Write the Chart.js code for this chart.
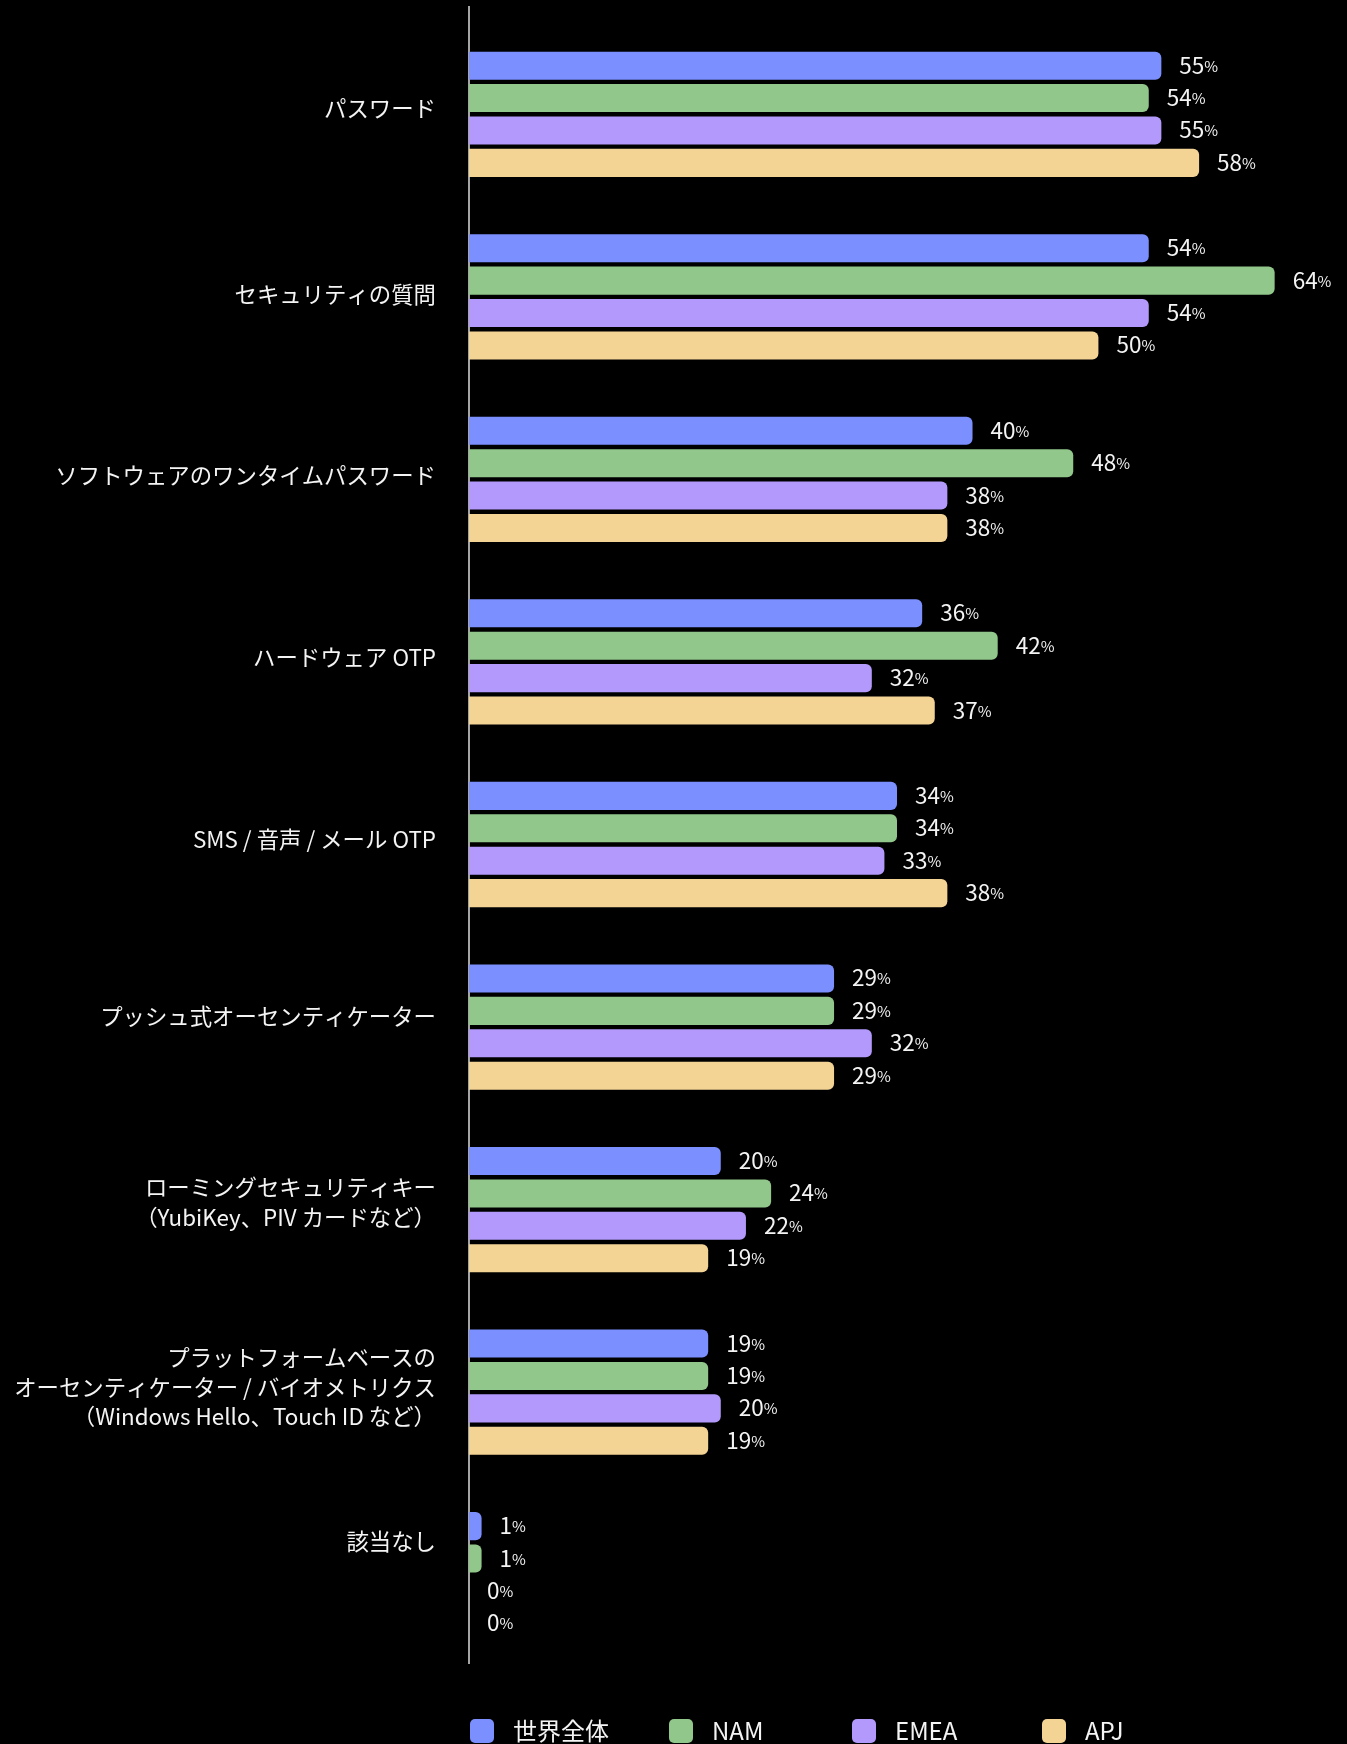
<!DOCTYPE html>
<html lang="ja">
<head>
<meta charset="utf-8">
<title>認証方式の利用状況</title>
<script src="https://cdn.jsdelivr.net/npm/chart.js@4.4.1/dist/chart.umd.min.js"></script>
<style>
    html, body { margin: 0; padding: 0; background: #000; }
    #authChart { display: block; }
</style>
</head>
<body>
<canvas id="authChart" width="1347" height="1744"></canvas>
<script>
// Categories (multi-line labels as arrays)
const methods = [
    "パスワード",
    "セキュリティの質問",
    "ソフトウェアのワンタイムパスワード",
    "ハードウェア OTP",
    "SMS / 音声 / メール OTP",
    "プッシュ式オーセンティケーター",
    ["ローミングセキュリティキー", "（YubiKey、PIV カードなど）"],
    ["プラットフォームベースの", "オーセンティケーター / バイオメトリクス", "（Windows Hello、Touch ID など）"],
    "該当なし"
];

const regions = ["世界全体", "NAM", "EMEA", "APJ"];

// Percentages per region
const global = [55, 54, 40, 36, 34, 29, 20, 19, 1];
const nam = [54, 64, 48, 42, 34, 29, 24, 19, 1];
const emea = [55, 54, 38, 32, 33, 32, 22, 20, 0];
const apj = [58, 50, 38, 37, 38, 29, 19, 19, 0];

const colors = ["#7b8fff", "#91c78a", "#b399fb", "#f3d495"];
const FONT = "'Noto Sans CJK JP', 'Noto Sans', sans-serif";

// Category labels, drawn left of the axis; small per-row vertical nudges
const categoryLabels = {
    id: "categoryLabels",
    afterDraw(chart) {
        const { ctx, chartArea } = chart;
        const yScale = chart.scales.y;
        const nudge = [-6, -2, -4, -4, -5, -11, -7, -5, -33];
        const lineH = 29.3;
        ctx.save();
        ctx.font = "22.4px " + FONT;
        ctx.fillStyle = "#f4f4f4";
        ctx.textAlign = "right";
        ctx.textBaseline = "middle";
        chart.data.labels.forEach((label, i) => {
            const lines = Array.isArray(label) ? label : [label];
            const cy = yScale.getPixelForTick(i) + nudge[i];
            const y0 = cy - (lines.length - 1) * lineH / 2;
            lines.forEach((line, k) => {
                ctx.fillText(line, chartArea.left - 33, y0 + k * lineH);
            });
        });
        ctx.restore();
    }
};

// Value labels: big digits + small percent sign
const valueLabels = {
    id: "valueLabels",
    afterDatasetsDraw(chart) {
        const ctx = chart.ctx;
        ctx.save();
        ctx.fillStyle = "#f4f4f4";
        ctx.textBaseline = "alphabetic";
        ctx.textAlign = "left";
        chart.data.datasets.forEach((ds, i) => {
            chart.getDatasetMeta(i).data.forEach((bar, j) => {
                const num = String(ds.data[j]);
                const x = bar.x + 18;
                const base = bar.y + 8;
                ctx.font = "22.5px " + FONT;
                ctx.fillText(num, x, base);
                const w = ctx.measureText(num).width;
                ctx.font = "15px " + FONT;
                ctx.fillText("%", x + w, base - 2);
            });
        });
        ctx.restore();
    }
};

// Vertical axis line, running a little above the first group
const axisLine = {
    id: "axisLine",
    beforeDatasetsDraw(chart) {
        const { ctx, chartArea } = chart;
        ctx.save();
        ctx.strokeStyle = "#dcdcdc";
        ctx.lineWidth = 1.5;
        ctx.beginPath();
        ctx.moveTo(chartArea.left, 6);
        ctx.lineTo(chartArea.left, chartArea.bottom - 2);
        ctx.stroke();
        ctx.restore();
    }
};

// Legend row under the chart
const bottomLegend = {
    id: "bottomLegend",
    afterDraw(chart) {
        const { ctx, chartArea } = chart;
        const offsets = [1, 200, 383, 573];
        const y = chart.height - 13;
        ctx.save();
        ctx.font = "24px " + FONT;
        ctx.textBaseline = "middle";
        ctx.textAlign = "left";
        chart.data.datasets.forEach((ds, i) => {
            const x = chartArea.left + offsets[i];
            ctx.fillStyle = ds.backgroundColor;
            ctx.beginPath();
            ctx.roundRect(x, y - 12, 24, 24, 5);
            ctx.fill();
            ctx.fillStyle = "#f4f4f4";
            ctx.fillText(ds.label, x + 43, y);
        });
        ctx.restore();
    }
};

const series = [global, nam, emea, apj];

const ctx = document.getElementById("authChart").getContext("2d");
const authChart = new Chart(ctx, {
    type: "bar",
    data: {
        labels: methods,
        datasets: series.map((values, i) => ({
            label: regions[i],
            data: values,
            backgroundColor: colors[i],
            borderWidth: 0,
            borderRadius: 6,
            borderSkipped: "start",
            categoryPercentage: 0.71,
            barPercentage: 0.866
        }))
    },
    options: {
        indexAxis: "y",
        responsive: false,
        animation: false,
        layout: {
            padding: { top: 23, bottom: 78, left: 0, right: 22 }
        },
        plugins: {
            legend: { display: false },
            tooltip: { enabled: false }
        },
        scales: {
            x: {
                display: false,
                min: 0,
                max: 68
            },
            y: {
                grid: { display: false, drawTicks: false },
                border: { display: false },
                ticks: { display: false },
                afterFit(scale) {
                    scale.width = 469;
                    scale.paddingTop = 0;
                    scale.paddingBottom = 0;
                }
            }
        }
    },
    plugins: [axisLine, valueLabels, categoryLabels, bottomLegend]
});
</script>
</body>
</html>
